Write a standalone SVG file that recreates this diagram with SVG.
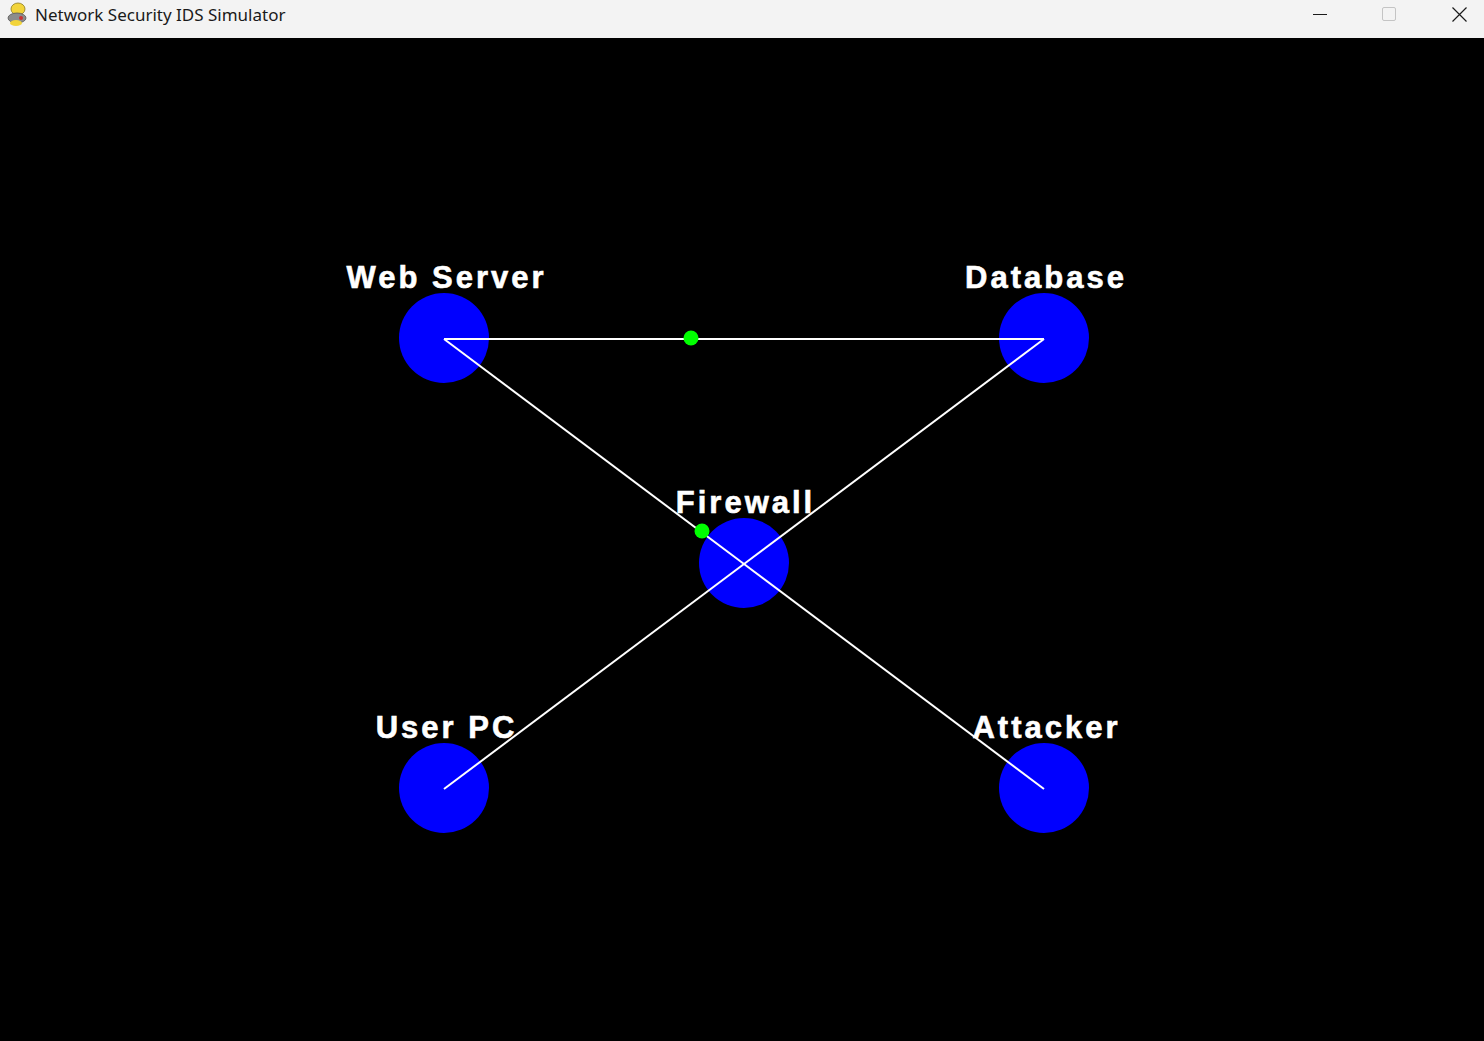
<svg xmlns="http://www.w3.org/2000/svg" width="1484" height="1041" viewBox="0 0 1484 1041">
  <style>
    .node { fill: #0000ff; }
    .label { fill: #ffffff; stroke: #ffffff; stroke-width: 0.6px; font-family: "Liberation Sans", Arial, sans-serif; font-weight: bold; font-size: 31px; letter-spacing: 3px; text-anchor: middle; }
    .link { stroke: #ffffff; stroke-width: 2; fill: none; }
    .packet { fill: #00ff00; }
    .title { fill: #1a1a1a; font-family: "Noto Sans", "Open Sans", sans-serif; font-size: 17px; }
  </style>
  <!-- title bar -->
  <g id="titlebar">
    <rect x="0" y="0" width="1484" height="38" fill="#f3f3f3"/>
    <g id="icon">
      <ellipse cx="18" cy="9" rx="7" ry="6" fill="#f2d43a" stroke="#8a7a20" stroke-width="0.8"/>
      <ellipse cx="17" cy="18" rx="9" ry="5" fill="#8c8c8c" stroke="#555" stroke-width="0.8"/>
      <circle cx="21" cy="18" r="2" fill="#c33"/>
      <ellipse cx="16" cy="23" rx="6" ry="3" fill="#f2d43a"/>
    </g>
    <text class="title" x="35" y="21">Network Security IDS Simulator</text>
    <line x1="1313" y1="14.5" x2="1327" y2="14.5" stroke="#1a1a1a" stroke-width="1"/>
    <rect x="1382.5" y="7.5" width="13" height="13" rx="1.5" fill="none" stroke="#c4c4c4" stroke-width="1"/>
    <path d="M1452.5 7.5 L1466.5 21.5 M1466.5 7.5 L1452.5 21.5" stroke="#1a1a1a" stroke-width="1.2" fill="none"/>
  </g>
  <rect x="0" y="38" width="1484" height="1003" fill="#000000"/>
  <!-- nodes -->
  <g id="node-webserver"><circle class="node" cx="444" cy="338" r="45"/></g>
  <g id="node-database"><circle class="node" cx="1044" cy="338" r="45"/></g>
  <g id="node-firewall"><circle class="node" cx="744" cy="563" r="45"/></g>
  <g id="node-userpc"><circle class="node" cx="444" cy="788" r="45"/></g>
  <g id="node-attacker"><circle class="node" cx="1044" cy="788" r="45"/></g>
  <!-- connectors -->
  <g id="connectors">
    <line class="link" x1="444" y1="339" x2="1044" y2="339"/>
    <line class="link" x1="444" y1="339" x2="744" y2="564"/>
    <line class="link" x1="1044" y1="339" x2="744" y2="564"/>
    <line class="link" x1="744" y1="564" x2="444" y2="789"/>
    <line class="link" x1="744" y1="564" x2="1044" y2="789"/>
  </g>
  <!-- packets -->
  <g id="packets">
    <circle class="packet" cx="691" cy="338" r="7.5"/>
    <circle class="packet" cx="702" cy="531" r="7.5"/>
  </g>
  <!-- labels -->
  <g id="labels">
    <text class="label" x="446.5" y="288">Web Server</text>
    <text class="label" x="1046" y="288">Database</text>
    <text class="label" x="745.5" y="513">Firewall</text>
    <text class="label" x="446.5" y="738">User PC</text>
    <text class="label" x="1046.5" y="738">Attacker</text>
  </g>
</svg>
